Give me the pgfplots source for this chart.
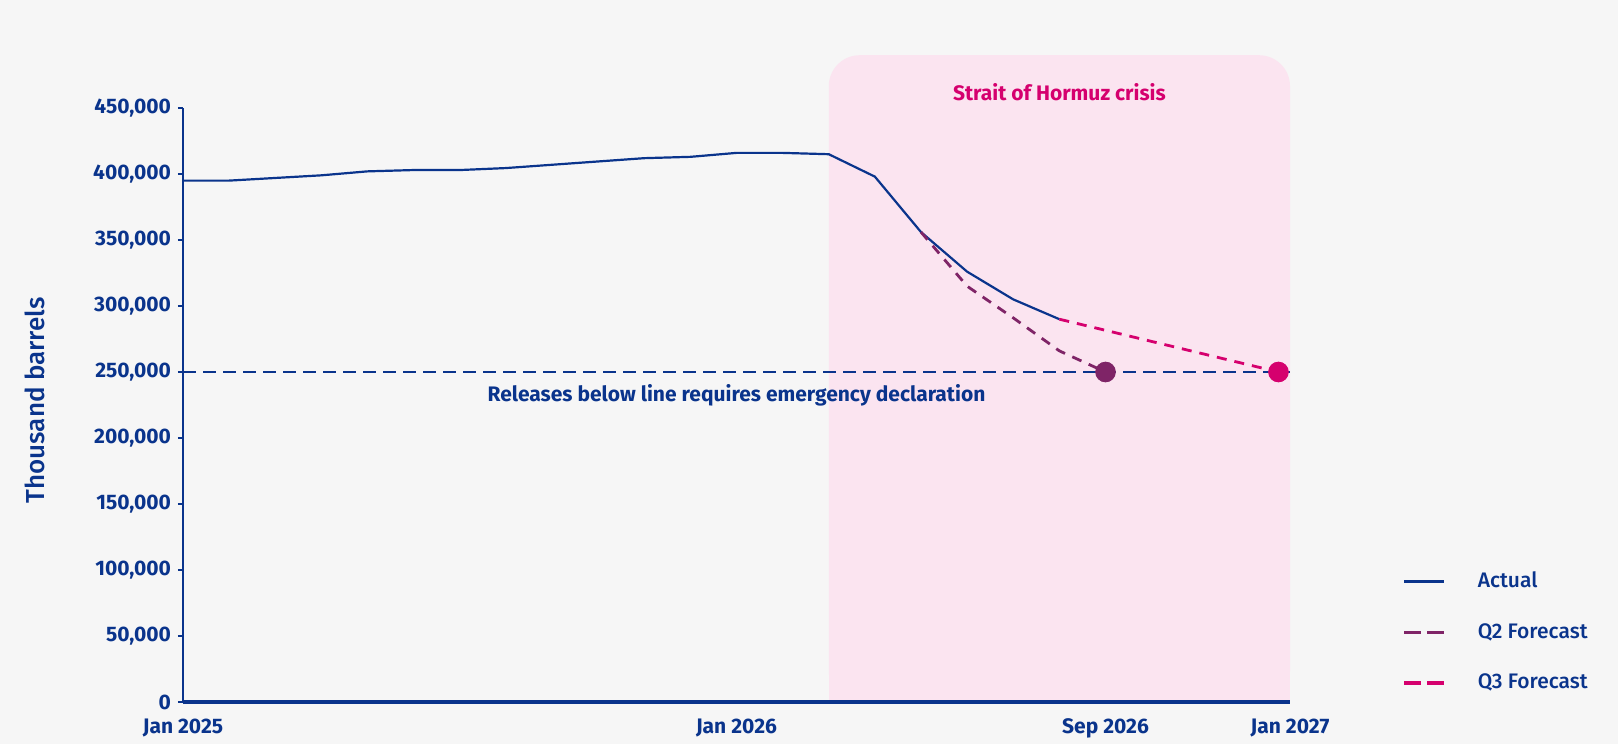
\documentclass[border=0pt]{standalone}
\usepackage{fontspec}
\setmainfont{Fira Sans}
\newfontfamily\medfont{Fira Sans Medium}
\usepackage{pgfplots}
\pgfplotsset{compat=1.18}
\definecolor{navy}{HTML}{0A348C}
\definecolor{plum}{HTML}{7F2467}
\definecolor{ingmag}{HTML}{D5006E}
\definecolor{pinkbg}{HTML}{FBE4F0}
\definecolor{bggray}{HTML}{F6F6F6}
\newcommand{\tickfont}{\fontsize{10.5bp}{12bp}\selectfont}
\begin{document}
\begin{tikzpicture}
\fill[bggray] (0,0) rectangle (809bp,372bp);
\useasboundingbox (0,0) rectangle (809bp,372bp);
\begin{axis}[
  at={(91.5bp,21bp)}, anchor=south west,
  scale only axis, width=553.5bp, height=297bp,
  xmin=0, xmax=24, ymin=0, ymax=450000,
  axis lines*=left, axis on top, clip=false,
  axis line style={navy},
  x axis line style={line width=1.6bp},
  y axis line style={line width=1bp},
  xtick={0,12,20,24},
  xticklabels={Jan 2025,Jan 2026,Sep 2026,Jan 2027},
  xtick style={draw=none},
  ytick={0,50000,100000,150000,200000,250000,300000,350000,400000,450000},
  scaled y ticks=false,
  /pgf/number format/fixed,
  /pgf/number format/precision=0,
  /pgf/number format/assume math mode=true,
  /pgf/number format/1000 sep={,},
  ytick style={navy, line width=1bp},
  tick align=outside, major tick length=2.5bp,
  ticklabel style={font=\tickfont\bfseries, text=navy},
  xticklabel style={yshift=-2.5bp},
  ylabel={Thousand barrels},
  ylabel style={at={(axis description cs:-0.1337,0.508)}, anchor=center,
    font=\fontsize{13bp}{15bp}\selectfont\medfont, text=navy},
  legend image code/.code={\draw[#1] (0bp,0bp) -- (20bp,0bp);},
  legend style={at={(1.101,0.118)}, anchor=west, draw=none, fill=none,
    inner sep=0pt, row sep=16.3bp, font=\tickfont\medfont, text=navy,
    nodes={inner sep=0pt},
    /tikz/every odd column/.append style={column sep=16bp}},
  legend cell align=left,
]
\addlegendimage{navy, line width=1.8bp}
\addlegendentry{Actual}
\addlegendimage{plum, line width=1.8bp, dash pattern=on 8.5bp off 3bp}
\addlegendentry{Q2 Forecast}
\addlegendimage{ingmag, line width=1.8bp, dash pattern=on 8.5bp off 3bp}
\addlegendentry{Q3 Forecast}

\fill[pinkbg, rounded corners=15.5bp] (axis cs:14,0) rectangle (axis cs:24,490000);
\fill[pinkbg] (axis cs:14,0) rectangle (axis cs:24,400000);

\addplot[navy, line width=0.8bp, dash pattern=on 6.5bp off 3.5bp, forget plot]
  coordinates {(0,250000) (24,250000)};

\addplot[navy, line width=1.1bp, forget plot] table {
x y
0 395000
1 395000
2 397000
3 399000
4 402000
5 403000
6 403000
7 404500
8 407000
9 409500
10 412000
11 413000
12 416000
13 416000
14 415000
15 398000
16 356000
17 326000
18 305000
19 290000
};

\addplot[plum, line width=1.4bp, dash pattern=on 5bp off 4bp, forget plot,
  mark=*, mark indices={5}, mark size=4.9bp,
  mark options={solid, fill=plum, draw=plum, line width=0.5bp}] table {
x y
16 356000
17 315000
18 291000
19 266000
20 250000
};

\addplot[ingmag, line width=1.4bp, dash pattern=on 5bp off 4bp, forget plot,
  mark=*, mark indices={2}, mark size=4.9bp,
  mark options={solid, fill=ingmag, draw=ingmag, line width=0.5bp}] table {
x y
19 290000
23.75 250000
};

\node[text=ingmag, font=\tickfont\bfseries] at (axis cs:19,462000) {Strait of Hormuz crisis};
\node[text=navy, font=\tickfont\bfseries] at (axis cs:12,232000) {Releases below line requires emergency declaration};
\end{axis}
\end{tikzpicture}
\end{document}
